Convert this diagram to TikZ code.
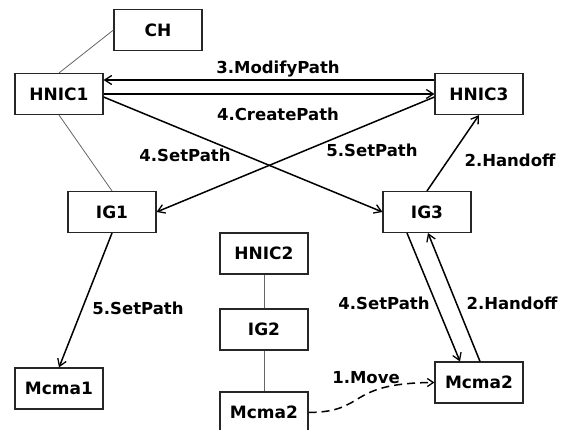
\documentclass[tikz,border=0pt]{standalone}
\usepackage{fontspec}
\setmainfont{DejaVu Sans}
\usetikzlibrary{arrows.meta}
\begin{document}
\begin{tikzpicture}[x=1pt,y=-1pt,
  box/.style={draw=black!85, line width=1.1pt, fill=white, minimum width=88pt, minimum height=41pt, inner sep=0pt, font=\fontsize{17}{19}\selectfont\bfseries},
  lbl/.style={font=\fontsize{16.5}{19}\selectfont\bfseries, inner sep=0pt},
  link/.style={draw=black!60, line width=0.8pt},
  msg/.style={draw=black, line width=1.5pt, -{Straight Barb[length=7pt,width=9pt,line width=1.3pt]}},
  mv/.style={draw=black, line width=1.5pt, dash pattern=on 8pt off 5pt, -{Straight Barb[length=6pt,width=8pt,line width=1.3pt]}}]
\clip (0,0) rectangle (567,430);
\fill[white] (0,0) rectangle (567,430);
% nodes
\node[box] (CH) at (158,30) {CH};
\node[box] (HNIC1) at (59,94) {HNIC1};
\node[box] (HNIC3) at (479,94) {HNIC3};
\node[box] (IG1) at (112,212) {IG1};
\node[box] (IG3) at (427,212) {IG3};
\node[box] (HNIC2) at (264,253.5) {HNIC2};
\node[box] (IG2) at (264,329.5) {IG2};
\node[box] (Mcma1) at (59,388.5) {Mcma1};
\node[box] (Mcma2r) at (479,382.5) {Mcma2};
\node[box] (Mcma2b) at (264,412.5) {Mcma2};
% plain links
\draw[link] (CH.west) -- (HNIC1.north);
\draw[link] (HNIC1.south) -- (IG1.north);
\draw[link] (HNIC2.south) -- (IG2.north);
\draw[link] (IG2.south) -- (Mcma2b.north);
% messages
\draw[msg] ([yshift=14pt]HNIC3.west) -- ([yshift=14pt]HNIC1.east);
\draw[msg] (HNIC1.east) -- (HNIC3.west);
\draw[msg] ([yshift=-3pt]HNIC1.east) -- (IG3.west);
\draw[msg] ([yshift=-3pt]HNIC3.west) -- (IG1.east);
\draw[msg] (IG3.north) -- (HNIC3.south);
\draw[msg] ([xshift=-20pt]IG3.south) -- ([xshift=-19pt]Mcma2r.north);
\draw[msg] ([xshift=1pt]Mcma2r.north) -- ([xshift=1pt]IG3.south);
\draw[msg] (IG1.south) -- (Mcma1.north);
\draw[mv] (Mcma2b.east) .. controls (368,412) and (345,383) .. (Mcma2r.west);
% labels
\node[lbl] (l1) at (278,69) {3.ModifyPath};
\node[lbl] (l2) at (278,114) {4.CreatePath};
\node[lbl] (l3) at (185,155) {4.SetPath};
\node[lbl] (l4) at (372,150) {5.SetPath};
\node[lbl] (l5) at (510,160) {2.Handoff};
\node[lbl] (l6) at (384,303) {4.SetPath};
\node[lbl] (l7) at (512,303) {2.Handoff};
\node[lbl] (l8) at (138,308) {5.SetPath};
\node[lbl] (l9) at (366,378) {1.Move};
\end{tikzpicture}
\end{document}
